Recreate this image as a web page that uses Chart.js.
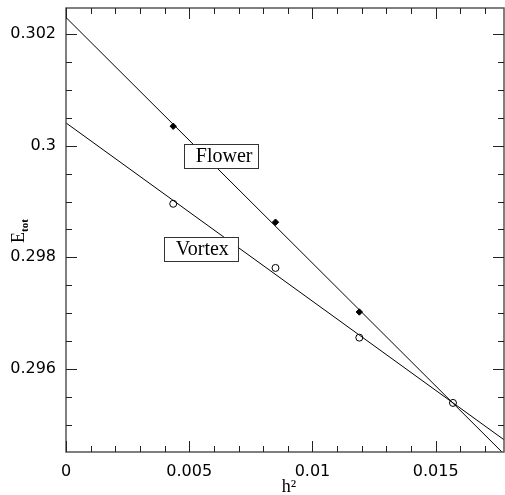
<!DOCTYPE html>
<html>
<head>
<meta charset="utf-8">
<script src="https://cdn.jsdelivr.net/npm/chart.js@4/dist/chart.umd.min.js"></script>
<style>
  body { margin: 0; background: #fff; }
  canvas { display: block; }
</style>
</head>
<body>
<canvas id="chart" width="505" height="495"></canvas>
<script>
// values
const h2Flower = [0.00435, 0.0085, 0.0119, 0.0157];
const eFlower = [0.30035, 0.29863, 0.29702, 0.29539];
const h2Vortex = [0.00435, 0.0085, 0.0119, 0.0157];
const eVortex = [0.29896, 0.29781, 0.29656, 0.29539];

// fitted straight lines (ends of each line)
const fitX = [0, 0.0178];
const fitFlower = [0.30230, 0.29446];
const fitVortex = [0.30041, 0.29472];

const xRange = [0, 0.01777];
const yRange = [0.29451, 0.30247];
const xMajor = 0.005, xMinor = 0.001;
const yMajor = 0.002, yMinor = 0.0005;

// labels placed in data coords (top-left corner of the box)
const notes = [
  { text: 'Flower', x: 0.00478, y: 0.30003 },
  { text: 'Vortex', x: 0.00397, y: 0.298365 }
];

const toXY = (xs, ys) => xs.map((x, i) => ({ x: x, y: ys[i] }));

// frame, inward ticks, label boxes, axis titles
const decor = {
  id: 'decor',
  afterDatasetsDraw(chart) {
    const ctx = chart.ctx;
    const a = chart.chartArea;
    const xs = chart.scales.x, ys = chart.scales.y;
    ctx.save();

    notes.forEach(n => {
      const px = xs.getPixelForValue(n.x), py = ys.getPixelForValue(n.y);
      ctx.fillStyle = '#fff';
      ctx.fillRect(px, py, 74, 24);
      ctx.strokeStyle = '#333';
      ctx.lineWidth = 1;
      ctx.strokeRect(Math.round(px) + 0.5, Math.round(py) + 0.5, 74, 24);
      ctx.fillStyle = '#000';
      ctx.font = '20px "Liberation Serif"';
      ctx.textAlign = 'left';
      ctx.textBaseline = 'alphabetic';
      ctx.fillText(n.text, px + 12, py + 18);
    });

    ctx.strokeStyle = '#555';
    ctx.lineWidth = 1.5;
    ctx.strokeRect(a.left, a.top, a.right - a.left, a.bottom - a.top);

    ctx.strokeStyle = '#222';
    ctx.lineWidth = 1;
    ctx.beginPath();
    for (let i = 0; i * xMinor <= xRange[1] + 1e-9; i++) {
      const px = Math.round(xs.getPixelForValue(i * xMinor)) + 0.5;
      const len = i % 5 === 0 ? 11 : 6;
      ctx.moveTo(px, a.bottom); ctx.lineTo(px, a.bottom - len);
      ctx.moveTo(px, a.top); ctx.lineTo(px, a.top + len);
    }
    const y0 = Math.ceil(yRange[0] / yMinor);
    for (let i = y0; i * yMinor <= yRange[1] + 1e-9; i++) {
      const py = Math.round(ys.getPixelForValue(i * yMinor)) + 0.5;
      const len = i % 4 === 0 ? 11 : 6;
      ctx.moveTo(a.left, py); ctx.lineTo(a.left + len, py);
      ctx.moveTo(a.right, py); ctx.lineTo(a.right - len, py);
    }
    ctx.stroke();

    // axis titles
    ctx.fillStyle = '#000';
    ctx.font = '18px "Liberation Serif"';
    ctx.textAlign = 'center';
    ctx.fillText('h²', (a.left + a.right) / 2 + 4, 492);

    ctx.translate(24, 243);
    ctx.rotate(-Math.PI / 2);
    ctx.textAlign = 'left';
    ctx.font = '18px "Liberation Serif"';
    ctx.fillText('E', 0, 0);
    const w = ctx.measureText('E').width;
    ctx.font = 'bold 11px "Liberation Serif"';
    ctx.fillText('tot', w, 4);
    ctx.restore();
  }
};

new Chart(document.getElementById('chart'), {
  type: 'scatter',
  data: {
    datasets: [
      {
        label: 'Flower fit',
        data: toXY(fitX, fitFlower),
        showLine: true,
        borderColor: '#000',
        borderWidth: 1,
        pointRadius: 0
      },
      {
        label: 'Vortex fit',
        data: toXY(fitX, fitVortex),
        showLine: true,
        borderColor: '#000',
        borderWidth: 1,
        pointRadius: 0
      },
      {
        label: 'Vortex',
        data: toXY(h2Vortex, eVortex),
        pointStyle: 'circle',
        pointRadius: 3.5,
        backgroundColor: '#fff',
        borderColor: '#000',
        borderWidth: 1
      },
      {
        label: 'Flower',
        data: toXY(h2Flower, eFlower),
        pointStyle: 'rectRot',
        pointRadius: 3.2,
        backgroundColor: '#000',
        borderColor: '#000',
        borderWidth: 1
      }
    ]
  },
  options: {
    responsive: false,
    animation: false,
    layout: { autoPadding: false, padding: { top: 8, right: 1, left: 0, bottom: 0 } },
    plugins: { legend: { display: false }, tooltip: { enabled: false } },
    scales: {
      x: {
        type: 'linear',
        min: xRange[0],
        max: xRange[1],
        grid: { display: false, drawTicks: false },
        border: { display: false },
        afterFit: s => { s.height = 43; s.paddingLeft = 0; s.paddingRight = 0; },
        ticks: {
          stepSize: xMajor,
          includeBounds: false,
          padding: 10,
          color: '#000',
          font: { family: 'DejaVu Sans', size: 16 },
          callback: v => String(+v.toFixed(4))
        }
      },
      y: {
        type: 'linear',
        min: yRange[0],
        max: yRange[1],
        grid: { display: false, drawTicks: false },
        border: { display: false },
        afterFit: s => { s.width = 66; s.paddingTop = 0; s.paddingBottom = 0; },
        ticks: {
          stepSize: yMajor,
          includeBounds: false,
          padding: 10,
          color: '#000',
          font: { family: 'DejaVu Sans', size: 16 },
          callback: v => String(+v.toFixed(4))
        }
      }
    }
  },
  plugins: [decor]
});
</script>
</body>
</html>
